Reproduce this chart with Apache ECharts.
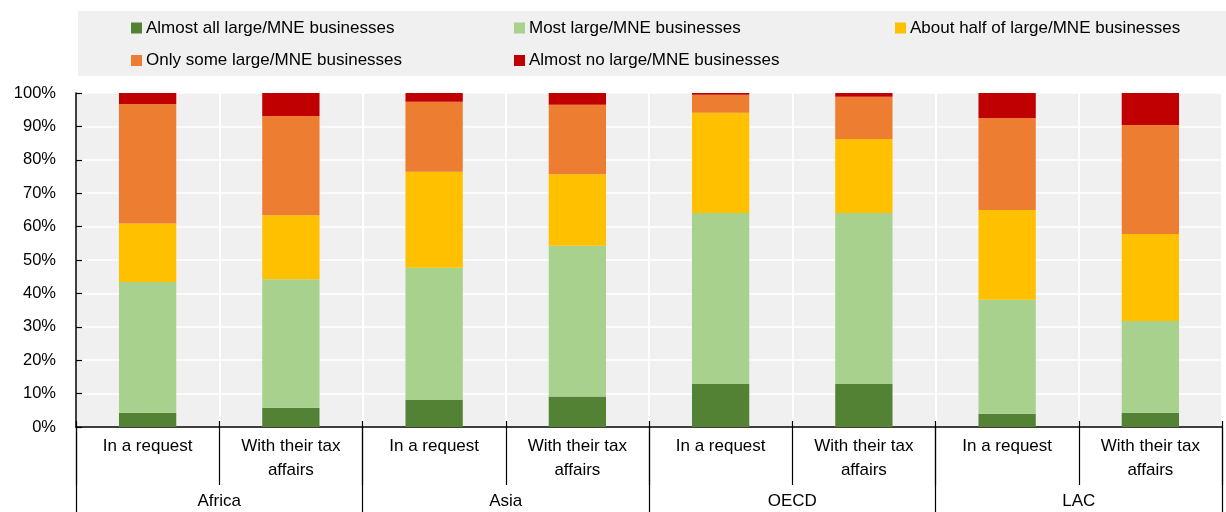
<!DOCTYPE html>
<html>
<head>
<meta charset="utf-8">
<script src="https://cdn.jsdelivr.net/npm/echarts@6/dist/echarts.min.js"></script>
<style>
  html, body { margin: 0; padding: 0; background: #fff; }
  #chart { width: 1226px; height: 512px; }
</style>
</head>
<body>
<div id="chart"></div>
<script>
// Categories: two response types within each region
const subCategories = ['In a request', 'With their tax\naffairs', 'In a request', 'With their tax\naffairs',
                       'In a request', 'With their tax\naffairs', 'In a request', 'With their tax\naffairs'];
const regions = ['Africa', 'Asia', 'OECD', 'LAC'];

// Share of respondents (%) for each answer
const almostAll  = [4.3, 5.8, 8.1, 9.1, 12.9, 12.9, 4.0, 4.3];
const most       = [39.1, 38.4, 39.6, 45.2, 51.2, 51.2, 34.1, 27.4];
const aboutHalf  = [17.5, 19.2, 28.7, 21.4, 30.0, 22.1, 26.9, 26.1];
const onlySome   = [35.8, 29.7, 21.0, 20.8, 5.4, 12.7, 27.5, 32.6];
const almostNone = [3.3, 6.9, 2.6, 3.5, 0.5, 1.1, 7.5, 9.6];

const seriesNames = [
  'Almost all large/MNE businesses',
  'Most large/MNE businesses',
  'About half of large/MNE businesses',
  'Only some large/MNE businesses',
  'Almost no large/MNE businesses'
];
const seriesData = [almostAll, most, aboutHalf, onlySome, almostNone];
const colors = ['#548235', '#A9D18E', '#FFC000', '#ED7D31', '#C00000'];

const yTicks = { min: 0, max: 100, interval: 10 };

const FONT = 'Liberation Sans, Arial, sans-serif';
const chart = echarts.init(document.getElementById('chart'));

const legendBase = {
  orient: 'vertical',
  top: 13,
  itemWidth: 11,
  itemHeight: 11,
  itemGap: 12.5,
  icon: 'rect',
  selectedMode: false,
  textStyle: { fontFamily: FONT, fontSize: 17, color: '#000', lineHeight: 20, padding: [0, 0, 0, -1] }
};

chart.setOption({
  animation: false,
  color: colors,
  graphic: [{
    type: 'rect',
    z: -10,
    shape: { x: 78, y: 11, width: 1148, height: 65 },
    style: { fill: '#f0f0f0' }
  }],
  legend: [
    Object.assign({}, legendBase, { left: 126, data: [seriesNames[0], seriesNames[3]] }),
    Object.assign({}, legendBase, { left: 509, data: [seriesNames[1], seriesNames[4]] }),
    Object.assign({}, legendBase, { left: 890, data: [seriesNames[2]] })
  ],
  grid: {
    left: 76, right: 4, top: 93, bottom: 85,
    show: true, backgroundColor: '#f0f0f0', borderWidth: 0
  },
  xAxis: [
    {
      type: 'category',
      data: subCategories,
      position: 'bottom',
      axisLine: { show: true, lineStyle: { color: '#000', width: 1.5 } },
      axisTick: { show: true, interval: 0, length: 58, lineStyle: { color: '#000', width: 1.2 } },
      axisLabel: { interval: 0, margin: 7, fontFamily: FONT, fontSize: 17, color: '#000', lineHeight: 24 },
      splitLine: { show: true, interval: 0, lineStyle: { color: '#fff', width: 2 } }
    },
    {
      type: 'category',
      data: regions,
      position: 'bottom',
      axisLine: { show: false },
      axisTick: { show: true, interval: 0, length: 85, lineStyle: { color: '#000', width: 1.2 } },
      axisLabel: { interval: 0, margin: 66, fontFamily: FONT, fontSize: 17, color: '#000' },
      splitLine: { show: false }
    },
    {
      type: 'category',
      data: subCategories,
      position: 'bottom',
      axisLine: { show: false },
      axisTick: { show: true, inside: true, interval: 0, length: 6, lineStyle: { color: '#000', width: 1.2 } },
      axisLabel: { show: false },
      splitLine: { show: false }
    }
  ],
  yAxis: {
    type: 'value',
    min: yTicks.min,
    max: yTicks.max,
    interval: yTicks.interval,
    axisLine: { show: true, lineStyle: { color: '#000', width: 1.5 } },
    axisTick: { show: true, inside: true, length: 6, lineStyle: { color: '#000', width: 1.2 } },
    axisLabel: { formatter: '{value}%', margin: 20, fontFamily: FONT, fontSize: 16.5, color: '#000' },
    splitLine: { show: true, lineStyle: { color: '#fff', width: 1.5 } }
  },
  series: seriesNames.map((name, i) => ({
    name: name,
    type: 'bar',
    stack: 'total',
    xAxisIndex: 0,
    barWidth: '40%',
    data: seriesData[i],
    itemStyle: { color: colors[i] }
  }))
});
</script>
</body>
</html>
